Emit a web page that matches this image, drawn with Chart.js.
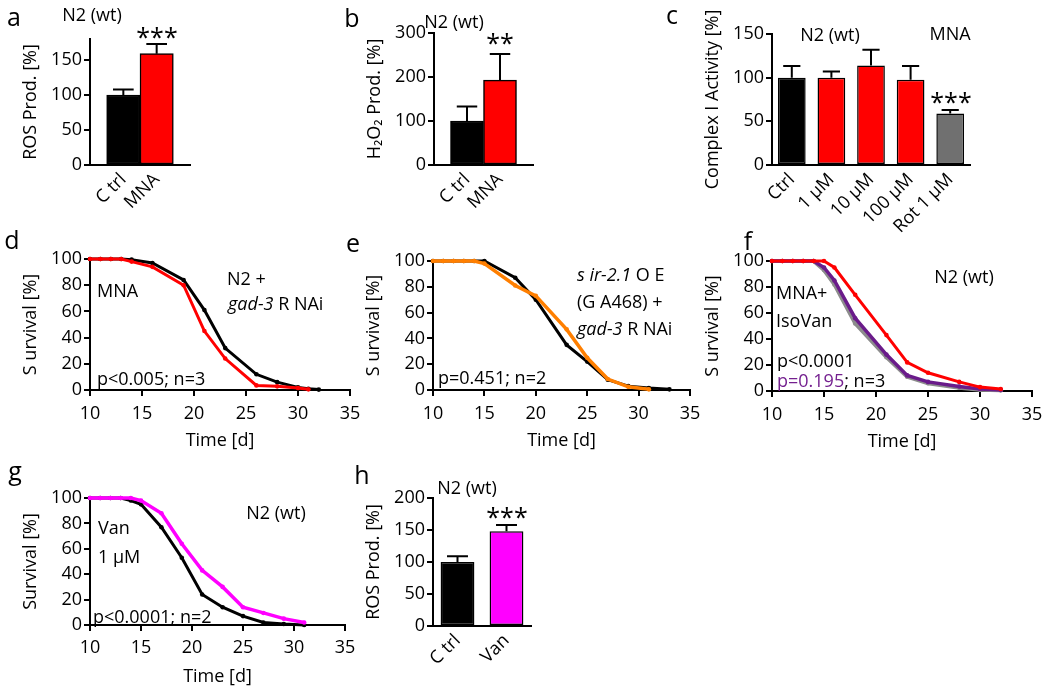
<!DOCTYPE html>
<html><head><meta charset="utf-8">
<script src="https://cdn.jsdelivr.net/npm/chart.js@4/dist/chart.umd.min.js"></script>
<style>
html,body{margin:0;padding:0;background:#fff;}
body{width:1050px;height:688px;position:relative;overflow:hidden;font-family:"Open Sans",sans-serif;color:#000;}
canvas{position:absolute;}
.t{position:absolute;font-size:18px;line-height:1;white-space:nowrap;transform:translateY(-50%);}
.c{transform:translate(-50%,-50%);}
.big{font-size:25px;}
.pur{color:#74208f;}
</style></head><body>
<script>
// ---------- data ----------
const catsA = ['C trl', 'MNA'];
const valsA = [100, 159];
const errsA = [8, 14];
const ticksA = [0, 50, 100, 150];

const catsB = ['C trl', 'MNA'];
const valsB = [100, 193];
const errsB = [33, 59];
const ticksB = [0, 100, 200, 300];

const catsC = ['Ctrl', '1 µM', '10 µM', '100 µM', 'Rot 1 µM'];
const valsC = [100, 100, 114, 97.5, 59];
const errsC = [13.5, 7, 18, 16, 4];
const ticksC = [0, 50, 100, 150];

const catsH = ['C trl', 'Van'];
const valsH = [100, 148];
const errsH = [9, 10];
const ticksH = [0, 50, 100, 150, 200];

const survXTicks = [10, 15, 20, 25, 30, 35];
const survYTicks = [0, 20, 40, 60, 80, 100];

const dDaysCtrl = [10, 11, 12, 13, 14, 16, 19, 21, 23, 26, 28, 30, 31, 32];
const dSurvCtrl = [100, 100, 100, 100, 99.5, 97, 84, 61, 32, 12, 6, 2, 1, 0.3];
const dDaysMNA  = [10, 11, 12, 13, 14, 16, 19, 21, 23, 26, 28, 30, 31];
const dSurvMNA  = [100, 100, 100, 100, 98, 94, 80, 45, 24, 3.5, 2.8, 1.5, 0.5];

const eDaysCtrl = [10, 11, 12, 13, 14, 15, 18, 20, 23, 25, 27, 29, 31, 33];
const eSurvCtrl = [100, 100, 100, 100, 100, 100, 87, 70, 35, 22, 8, 3, 1.5, 0.5];
const eDaysMNA  = [10, 11, 12, 13, 14, 15, 18, 20, 23, 25, 27, 29, 31];
const eSurvMNA  = [100, 100, 100, 100, 100, 98, 81, 73, 47, 25, 8.5, 2.5, 0.5];

const fDays       = [10, 11, 12, 13, 14, 15, 16, 18, 21, 23, 25, 28, 30, 32];
const fSurvCtrl   = [100, 100, 100, 100, 100, 100, 95, 74, 43, 22, 14, 7, 3, 1.5];
const fSurvIsoVan = [100, 100, 100, 100, 100, 95, 85, 56, 28, 12, 7, 3.5, 1.5, 0.8];
const fSurvMNA    = [100, 100, 100, 100, 100, 93, 82, 52, 26, 11, 6, 2.5, 1, 0.5];

const gDays     = [10, 11, 12, 13, 14, 15, 17, 19, 21, 23, 25, 27, 29, 31];
const gSurvCtrl = [100, 100, 100, 100, 98, 95, 77, 53, 24, 14, 7, 2, 0.8, 0];
const gSurvVan  = [100, 100, 100, 100, 100, 98, 88, 64, 43, 30, 14, 9.5, 5, 2];

// ---------- helpers ----------
Chart.defaults.color = '#000';
Chart.defaults.font.family = '"Open Sans", sans-serif';
Chart.defaults.font.size = 18;
const FONT = {family: '"Open Sans", sans-serif', size: 18};
const Y_W = 74;

function makeCanvas(L, T, R, B, xH, padR, padT) {
  const c = document.createElement('canvas');
  c.width = (R - L) + Y_W + padR;
  c.height = (B - T) + padT + xH;
  c.style.left = (L - Y_W) + 'px';
  c.style.top = (T - padT) + 'px';
  document.body.appendChild(c);
  return c;
}

const errorBarPlugin = {
  id: 'errorBars',
  afterDatasetsDraw(chart, args, opts) {
    const ctx = chart.ctx, ys = chart.scales.y;
    const meta = chart.getDatasetMeta(0);
    const vals = opts.values, errs = opts.errors;
    ctx.save();
    ctx.strokeStyle = '#000';
    ctx.lineWidth = 2;
    meta.data.forEach((bar, i) => {
      const top = ys.getPixelForValue(vals[i] + errs[i]);
      const half = bar.width * 0.31;
      ctx.beginPath();
      ctx.moveTo(bar.x, bar.y);
      ctx.lineTo(bar.x, top);
      ctx.moveTo(bar.x - half, top);
      ctx.lineTo(bar.x + half, top);
      ctx.stroke();
    });
    ctx.restore();
  }
};

function yScale(max, ticks, title) {
  return {
    min: 0, max: max,
    afterBuildTicks: s => { s.ticks = ticks.map(v => ({value: v})); },
    afterFit: s => { s.width = Y_W; },
    ticks: {font: FONT, color: '#000', padding: 2},
    grid: {drawOnChartArea: false, drawTicks: true, tickLength: 6, color: '#000', lineWidth: 2},
    border: {display: true, color: '#000', width: 2},
    title: {display: true, text: title, font: FONT, color: '#000'}
  };
}

function barChart(L, T, R, B, padT, cats, vals, errs, colors, yMax, yTicks, yTitle, linear, barPct) {
  const xH = 75;
  const canvas = makeCanvas(L, T, R, B, xH, 20, padT);
  let data, xScale;
  if (linear) {
    data = vals.map((v, i) => ({x: i + 1, y: v}));
    xScale = {
      type: 'linear', min: 0, max: 3, offset: false,
      afterBuildTicks: s => { s.ticks = cats.map((c, i) => ({value: i + 1})); },
      ticks: {callback: v => cats[v - 1] || '', minRotation: 45, maxRotation: 45, autoSkip: false, font: FONT, color: '#000', padding: 4}
    };
  } else {
    data = vals;
    xScale = {
      type: 'category', offset: true,
      ticks: {minRotation: 45, maxRotation: 45, autoSkip: false, font: FONT, color: '#000', padding: 4}
    };
  }
  xScale.grid = {display: false, drawTicks: false, offset: false};
  xScale.border = {display: true, color: '#000', width: 2};
  xScale.afterFit = s => { s.height = xH; };
  new Chart(canvas, {
    type: 'bar',
    data: {
      labels: linear ? undefined : cats,
      datasets: [{
        data: data, backgroundColor: colors, borderColor: '#000', borderWidth: 1.5,
        borderSkipped: false, barPercentage: barPct, categoryPercentage: 1
      }]
    },
    options: {
      responsive: false, animation: false,
      layout: {padding: {top: padT, right: 20, left: 0, bottom: 0}},
      plugins: {legend: {display: false}, tooltip: {enabled: false},
                errorBars: {values: vals, errors: errs}},
      scales: {x: xScale, y: yScale(yMax, yTicks, yTitle)}
    },
    plugins: [errorBarPlugin]
  });
}

function survChart(L, T, R, B, xH, tickPad, series, yTitle) {
  const padT = 14;
  const canvas = makeCanvas(L, T, R, B, xH, 18, padT);
  new Chart(canvas, {
    type: 'line',
    data: {
      datasets: series.map(s => ({
        data: s.days.map((d, i) => ({x: d, y: s.vals[i]})),
        borderColor: s.color, backgroundColor: s.color, borderWidth: s.w,
        pointRadius: 2.3, pointBorderWidth: 0, pointBackgroundColor: s.color,
        tension: 0, clip: false, fill: false
      }))
    },
    options: {
      responsive: false, animation: false,
      layout: {padding: {top: padT, right: 18, left: 0, bottom: 0}},
      plugins: {legend: {display: false}, tooltip: {enabled: false}},
      scales: {
        x: {
          type: 'linear', min: 10, max: 35,
          afterBuildTicks: s => { s.ticks = survXTicks.map(v => ({value: v})); },
          afterFit: s => { s.height = xH; },
          ticks: {font: FONT, color: '#000', padding: tickPad, maxRotation: 0},
          grid: {drawOnChartArea: false, drawTicks: true, tickLength: 6, color: '#000', lineWidth: 2},
          border: {display: true, color: '#000', width: 2},
          title: {display: true, text: 'Time [d]', font: FONT, color: '#000', padding: {top: 0, bottom: 4}}
        },
        y: yScale(100, survYTicks, yTitle)
      }
    }
  });
}

// ---------- bar panels ----------
barChart(90, 39, 190, 165, 30, catsA, valsA, errsA, ['#000000', '#ff0000'], 180, ticksA, 'ROS Prod. [%]', true, 1);
barChart(434, 33, 533, 165, 30, catsB, valsB, errsB, ['#000000', '#ff0000'], 300, ticksB, 'H\u2082O\u2082 Prod. [%]', true, 1);
barChart(772, 34, 970, 165, 34, catsC, valsC, errsC, ['#000000', '#ff0000', '#ff0000', '#ff0000', '#707070'], 150, ticksC, 'Complex I Activity [%]', false, 0.7);
barChart(433, 498, 531, 626, 30, catsH, valsH, errsH, ['#000000', '#ff00ff'], 200, ticksH, 'ROS Prod. [%]', false, 0.69);

// ---------- survival panels ----------
survChart(90, 259, 350, 390, 66, 7, [
  {days: dDaysMNA, vals: dSurvMNA, color: '#ff0000', w: 3},
  {days: dDaysCtrl, vals: dSurvCtrl, color: '#000000', w: 3}
], 'S urvival [%]');
survChart(433, 261, 690, 390, 66, 7, [
  {days: eDaysMNA, vals: eSurvMNA, color: '#ff7f00', w: 3.5},
  {days: eDaysCtrl, vals: eSurvCtrl, color: '#000000', w: 3}
], 'S urvival [%]');
survChart(772, 261, 1032, 391, 66, 7, [
  {days: fDays, vals: fSurvCtrl, color: '#ff0000', w: 3},
  {days: fDays, vals: fSurvIsoVan, color: '#6a1b8a', w: 3.5},
  {days: fDays, vals: fSurvMNA, color: '#8c8c8c', w: 4}
], 'S urvival [%]');
survChart(90, 498, 345, 625, 67, 6, [
  {days: gDays, vals: gSurvVan, color: '#ff00ff', w: 3.5},
  {days: gDays, vals: gSurvCtrl, color: '#000000', w: 3}
], 'Survival [%]');

// ---------- annotations ----------
const notes = [
  ['a', 14, 16, 'c big'], ['N2 (wt)', 92, 14, 'c'], ['***', 157, 36, 'c big'],
  ['b', 352, 17, 'c big'], ['N2 (wt)', 454, 21, 'c'], ['**', 500, 42, 'c big'],
  ['c', 672, 14, 'c big'], ['N2 (wt)', 830, 34, 'c'], ['MNA', 950, 33, 'c'], ['***', 951, 101, 'c big'],
  ['d', 12, 239, 'c big'], ['MNA', 97, 290, ''], ['N2 +', 227, 278, ''], ['<i>gad-3</i> R NAi', 228, 303, ''],
  ['p&lt;0.005; n=3', 97, 378, ''],
  ['e', 353, 242, 'c big'], ['<i>s ir-2.1</i> O E', 577, 274, ''], ['(G A468) +', 577, 301, ''],
  ['<i>gad-3</i> R NAi', 577, 328, ''], ['p=0.451; n=2', 438, 377, ''],
  ['f', 748, 240, 'c big'], ['N2 (wt)', 964, 276, 'c'], ['MNA+', 776, 292, ''], ['IsoVan', 776, 320, ''],
  ['p&lt;0.0001', 777, 360, ''], ['<span class="pur">p=0.195</span>; n=3', 777, 380, ''],
  ['g', 15, 470, 'c big'], ['Van', 98, 527, ''], ['1 \u03bcM', 98, 556, ''], ['N2 (wt)', 276, 512, 'c'],
  ['p&lt;0.0001; n=2', 93, 616, ''],
  ['h', 362, 474, 'c big'], ['N2 (wt)', 467, 487, 'c'], ['***', 507, 516, 'c big']
];
notes.forEach(([html, x, y, cls]) => {
  const d = document.createElement('div');
  d.className = 't ' + cls;
  d.style.left = x + 'px';
  d.style.top = y + 'px';
  d.innerHTML = html;
  document.body.appendChild(d);
});
</script>
</body></html>
